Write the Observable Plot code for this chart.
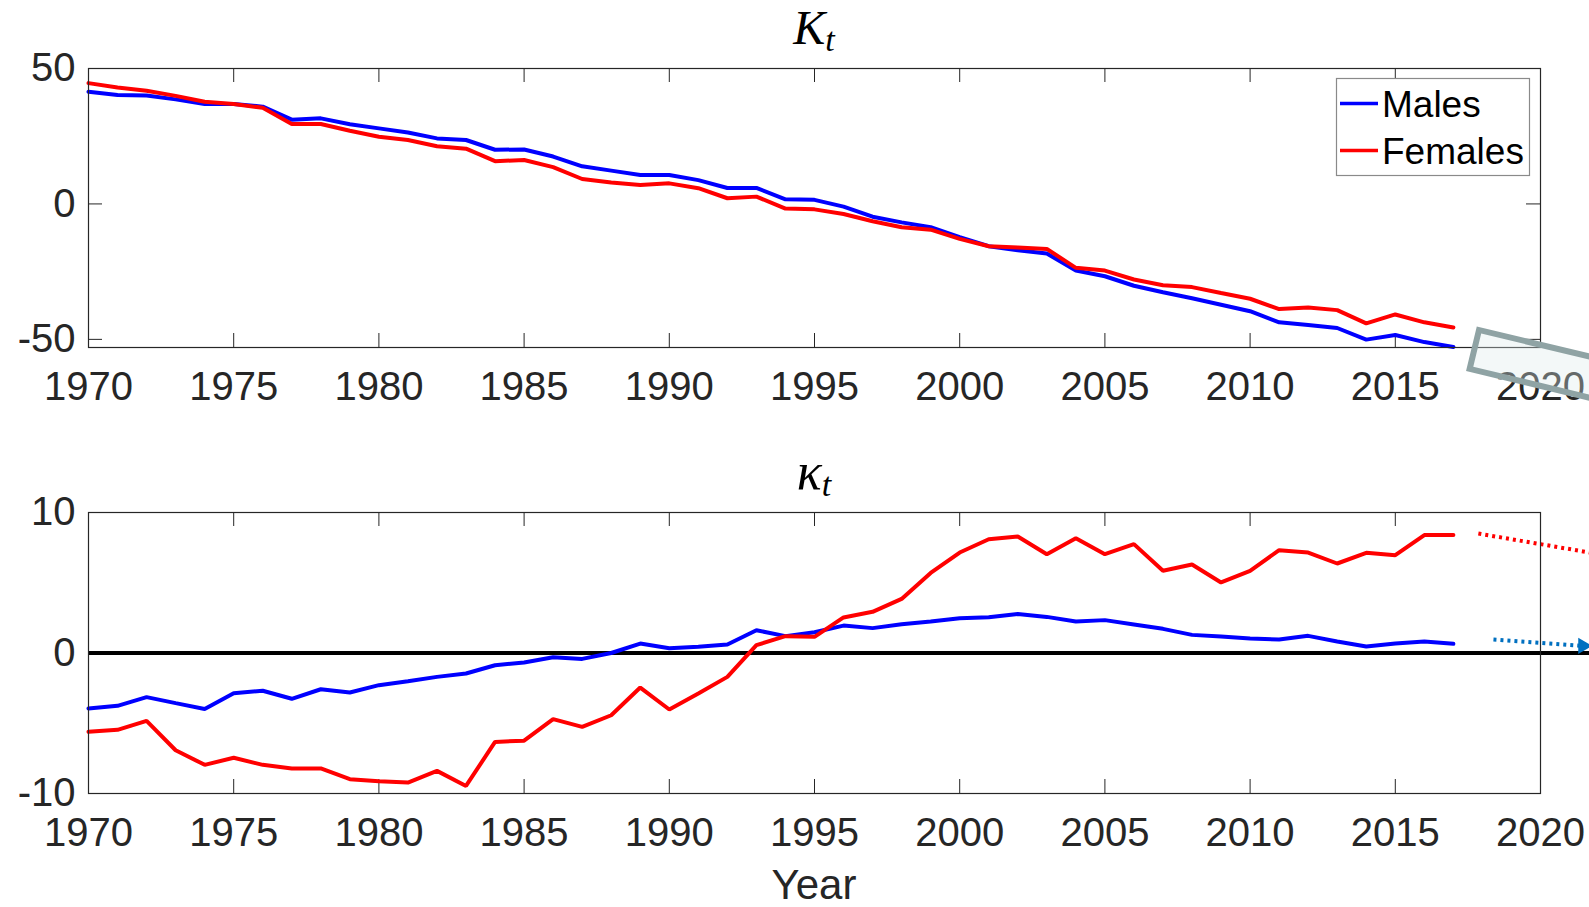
<!DOCTYPE html>
<html><head><meta charset="utf-8">
<script src="https://cdn.jsdelivr.net/npm/d3@7"></script>
<script src="https://cdn.jsdelivr.net/npm/@observablehq/plot@0.6"></script>
<style>
html,body{margin:0;padding:0;background:#fff;overflow:hidden;}
#wrap{position:relative;width:1589px;height:907px;overflow:hidden;background:#fff;font-family:"Liberation Sans",Arial,sans-serif;}
#top,#bot,#ann{position:absolute;left:0;}
#top{top:0}
#bot{top:440px}
#ann{top:0;pointer-events:none}
</style></head><body>
<div id="wrap"><div id="top"></div><div id="bot"></div><svg id="ann" width="1589" height="907"></svg></div>
<script>
// ---------------- data ----------------
const years = [1970,1971,1972,1973,1974,1975,1976,1977,1978,1979,
               1980,1981,1982,1983,1984,1985,1986,1987,1988,1989,
               1990,1991,1992,1993,1994,1995,1996,1997,1998,1999,
               2000,2001,2002,2003,2004,2005,2006,2007,2008,2009,
               2010,2011,2012,2013,2014,2015,2016,2017];
const seriesNames = ["Males", "Females"];
const seriesColors = ["#0000ff", "#ff0000"];

const KtMales = [41.4,40.2,40.0,38.6,36.9,36.9,35.9,31.1,31.6,29.4,
                 27.9,26.4,24.2,23.6,20.0,20.1,17.5,13.9,12.3,10.7,
                 10.7,8.8,5.9,5.9,1.7,1.5,-1.0,-4.7,-6.8,-8.6,
                 -12.3,-15.6,-17.1,-18.3,-24.6,-26.7,-30.2,-32.6,-34.8,-37.2,
                 -39.6,-43.7,-44.7,-45.8,-50.1,-48.4,-51.0,-52.8];
const KtFemales = [44.6,43.0,41.8,39.9,37.7,36.9,35.5,29.5,29.5,27.0,
                   24.8,23.6,21.3,20.4,15.8,16.2,13.6,9.2,7.9,7.0,
                   7.6,5.8,2.1,2.7,-1.7,-2.0,-3.7,-6.4,-8.6,-9.5,
                   -12.9,-15.6,-16.1,-16.6,-23.6,-24.6,-27.9,-30.0,-30.7,-32.9,
                   -35.0,-38.8,-38.2,-39.2,-44.1,-40.8,-43.7,-45.6];
const kappaMales = [-3.95,-3.76,-3.14,-3.57,-3.98,-2.86,-2.69,-3.26,-2.58,-2.81,
                    -2.29,-2.01,-1.70,-1.46,-0.87,-0.68,-0.30,-0.42,0.0,0.67,
                    0.34,0.44,0.60,1.62,1.20,1.48,1.95,1.77,2.05,2.24,
                    2.48,2.55,2.78,2.57,2.24,2.34,2.03,1.72,1.29,1.17,
                    1.03,0.96,1.22,0.82,0.46,0.67,0.82,0.65];
const kappaFemales = [-5.61,-5.47,-4.83,-6.92,-7.96,-7.46,-7.96,-8.22,-8.22,-8.98,
                      -9.12,-9.22,-8.39,-9.46,-6.33,-6.24,-4.71,-5.26,-4.43,-2.46,
                      -4.02,-2.88,-1.70,0.56,1.20,1.15,2.53,2.93,3.85,5.70,
                      7.15,8.10,8.29,7.03,8.17,7.03,7.75,5.85,6.30,5.02,
                      5.85,7.32,7.15,6.37,7.13,6.96,8.39,8.39];

// dotted projection hints (right side)
const projFemalesYear = [2017.86, 2021.7];
const projFemalesVal  = [8.5, 7.15];
const projMalesYear   = [2018.38, 2021.46];
const projMalesVal    = [0.96, 0.51];
const zeroLineYear    = [1970, 2021.8];

const xTicks = [1970,1975,1980,1985,1990,1995,2000,2005,2010,2015,2020];
const xDomain = [1970, 2020];
const KtTicks = [-50, 0, 50];
const KtDomain = [-53, 50];
const kappaTicks = [-10, 0, 10];
const kappaDomain = [-10, 10];

const titles = ["K", "κ"];
const subscript = "t";
const xLabel = "Year";

// ---------------- helpers ----------------
const rows = (vals, xs = years) => vals.map((v, i) => ({year: xs[i], value: v}));
const W = 1589, mL = 88, mR = 49;
const frameW = W - mL - mR;
const tickLen = 14;
const axisColor = "#262626";
const baseStyle = {fontFamily: "'Liberation Sans', Arial, sans-serif", fontSize: "40px",
                   color: axisColor, background: "transparent", overflow: "visible"};

function panel({height, mT, mB, yDomain, yTicks, series, extra = []}) {
  const frameH = height - mT - mB;
  return Plot.plot({
    width: W, height, marginTop: mT, marginBottom: mB, marginLeft: mL, marginRight: mR,
    style: baseStyle,
    x: {domain: xDomain, ticks: xTicks, tickSize: 0, tickPadding: 24, tickFormat: d => String(d), label: null},
    y: {domain: yDomain, ticks: yTicks, tickSize: 0, tickPadding: 13, tickFormat: d => String(d), label: null},
    marks: [
      Plot.tickX(xTicks, {x: d => d, insetTop: frameH - tickLen, stroke: axisColor, strokeWidth: 1}),
      Plot.tickX(xTicks, {x: d => d, insetBottom: frameH - tickLen, stroke: axisColor, strokeWidth: 1}),
      Plot.tickY(yTicks, {y: d => d, insetRight: frameW - tickLen, stroke: axisColor, strokeWidth: 1}),
      Plot.tickY(yTicks, {y: d => d, insetLeft: frameW - tickLen, stroke: axisColor, strokeWidth: 1}),
      ...extra,
      ...series.map((vals, i) => Plot.line(rows(vals), {x: "year", y: "value", stroke: seriesColors[i], strokeWidth: 4, strokeLinejoin: "miter"})),
      Plot.frame({stroke: axisColor, strokeWidth: 1.2})
    ]
  });
}

const topPlot = panel({height: 430, mT: 68, mB: 83, yDomain: KtDomain, yTicks: KtTicks,
                       series: [KtMales, KtFemales]});
document.getElementById("top").append(topPlot);

const dotted = {strokeWidth: 4, strokeDasharray: "3,4", strokeLinecap: "butt"};
const botPlot = panel({height: 467, mT: 72, mB: 114, yDomain: kappaDomain, yTicks: kappaTicks,
  series: [kappaMales, kappaFemales],
  extra: [
    Plot.ruleY([0], {x1: zeroLineYear[0], x2: zeroLineYear[1], stroke: "#000", strokeWidth: 4}),
    Plot.line(rows(projFemalesVal, projFemalesYear), {x: "year", y: "value", stroke: "#ff0000", ...dotted}),
    Plot.line(rows(projMalesVal, projMalesYear), {x: "year", y: "value", stroke: "#0070c0", ...dotted}),
    Plot.dot([{year: projMalesYear[1], value: projMalesVal[1]}], {x: "year", y: "value", symbol: "triangle", r: 6, fill: "#0070c0", rotate: 90})
  ]});
document.getElementById("bot").append(botPlot);

// ---------------- annotations ----------------
const ann = d3.select("#ann");
const cx = mL + frameW / 2;

// decorative rotated box (from the slide background)
ann.append("rect").attr("x", 0).attr("y", 0).attr("width", 240).attr("height", 40)
  .attr("transform", "translate(1479,330) rotate(13.5)")
  .attr("fill", "rgba(222,234,236,0.35)").attr("stroke", "#8fa3a4").attr("stroke-width", 6);

function title(y, sym, size) {
  const t = ann.append("text").attr("x", cx).attr("y", y).attr("text-anchor", "middle")
    .attr("font-family", "'Liberation Serif', 'DejaVu Serif', serif").attr("font-style", "italic")
    .attr("font-size", size).attr("fill", "#000");
  t.append("tspan").text(sym);
  t.append("tspan").attr("font-size", 34).attr("dy", 7).text(subscript);
}
title(44, titles[0], 48);
title(489, titles[1], 52);

ann.append("text").attr("x", cx).attr("y", 899).attr("text-anchor", "middle")
  .attr("font-family", "'Liberation Sans', Arial, sans-serif").attr("font-size", 42)
  .attr("fill", axisColor).text(xLabel);

// legend
const lg = ann.append("g");
lg.append("rect").attr("x", 1336.5).attr("y", 78.5).attr("width", 193).attr("height", 97)
  .attr("fill", "#fff").attr("stroke", "#8a8a8a").attr("stroke-width", 1.2);
seriesNames.forEach((name, i) => {
  const yLine = 103.5 + i * 47;
  lg.append("line").attr("x1", 1340).attr("x2", 1378).attr("y1", yLine).attr("y2", yLine)
    .attr("stroke", seriesColors[i]).attr("stroke-width", 3.5);
  lg.append("text").attr("x", 1382).attr("y", yLine + 13.3)
    .attr("font-family", "'Liberation Sans', Arial, sans-serif").attr("font-size", 37)
    .attr("fill", "#000").text(name);
});
</script>
</body></html>
